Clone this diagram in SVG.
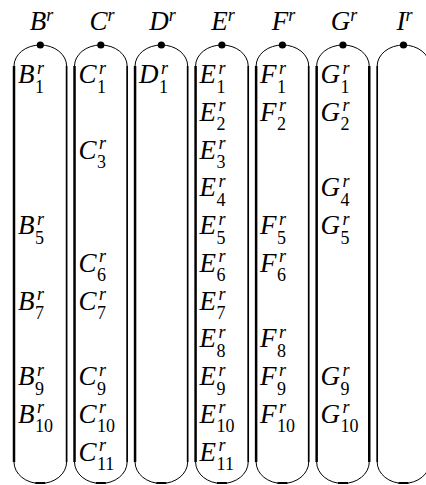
<svg xmlns="http://www.w3.org/2000/svg" width="426" height="485" viewBox="0 0 426 485">
<style>
.bg{fill:#fff}
.arc{fill:none;stroke:#000;stroke-width:1}
.vl{stroke:#000;stroke-width:2.5}
.vr{stroke:#000;stroke-width:1.7}
.bt{stroke:#000;stroke-width:2}
.dot{fill:#000}
.m{font-family:"Liberation Serif",serif;font-style:italic;font-size:27px;fill:#000}
.s{font-style:italic;font-size:18px}
.d{font-style:normal;font-size:18px}
</style>
<rect class="bg" x="0" y="0" width="426" height="485"/>
<g id="col-B">
<path class="arc" d="M14,66 A26.3,21 0 0 1 66.6,66 M14,462 A26.3,21.5 0 0 0 66.6,462"/>
<line class="vl" x1="14" y1="66" x2="14" y2="462"/><line class="vr" x1="66.6" y1="66" x2="66.6" y2="462"/>
<line class="bt" x1="35.3" y1="483" x2="45.3" y2="483"/>
<circle class="dot" cx="40.3" cy="45" r="3.6"/>
<text class="m" x="41.5" y="30" text-anchor="middle">B<tspan class="s" dy="-9.5">r</tspan></text>
<text class="m" y="83"><tspan x="18">B</tspan><tspan class="s" x="37" dy="-9.5">r</tspan><tspan class="d" x="35" dy="19">1</tspan></text>
<text class="m" y="234"><tspan x="18">B</tspan><tspan class="s" x="37" dy="-9.5">r</tspan><tspan class="d" x="35" dy="19">5</tspan></text>
<text class="m" y="309.5"><tspan x="18">B</tspan><tspan class="s" x="37" dy="-9.5">r</tspan><tspan class="d" x="35" dy="19">7</tspan></text>
<text class="m" y="385"><tspan x="18">B</tspan><tspan class="s" x="37" dy="-9.5">r</tspan><tspan class="d" x="35" dy="19">9</tspan></text>
<text class="m" y="422.75"><tspan x="18">B</tspan><tspan class="s" x="37" dy="-9.5">r</tspan><tspan class="d" x="35" dy="19">10</tspan></text>
</g>
<g id="col-C">
<path class="arc" d="M74.53,66 A26.3,21 0 0 1 127.13,66 M74.53,462 A26.3,21.5 0 0 0 127.13,462"/>
<line class="vl" x1="74.53" y1="66" x2="74.53" y2="462"/><line class="vr" x1="127.13" y1="66" x2="127.13" y2="462"/>
<line class="bt" x1="95.83" y1="483" x2="105.83" y2="483"/>
<circle class="dot" cx="100.83" cy="45" r="3.6"/>
<text class="m" x="102" y="30" text-anchor="middle">C<tspan class="s" dy="-9.5">r</tspan></text>
<text class="m" y="83"><tspan x="78.5">C</tspan><tspan class="s" x="99" dy="-9.5">r</tspan><tspan class="d" x="97" dy="19">1</tspan></text>
<text class="m" y="158.5"><tspan x="78.5">C</tspan><tspan class="s" x="99" dy="-9.5">r</tspan><tspan class="d" x="97" dy="19">3</tspan></text>
<text class="m" y="271.75"><tspan x="78.5">C</tspan><tspan class="s" x="99" dy="-9.5">r</tspan><tspan class="d" x="97" dy="19">6</tspan></text>
<text class="m" y="309.5"><tspan x="78.5">C</tspan><tspan class="s" x="99" dy="-9.5">r</tspan><tspan class="d" x="97" dy="19">7</tspan></text>
<text class="m" y="385"><tspan x="78.5">C</tspan><tspan class="s" x="99" dy="-9.5">r</tspan><tspan class="d" x="97" dy="19">9</tspan></text>
<text class="m" y="422.75"><tspan x="78.5">C</tspan><tspan class="s" x="99" dy="-9.5">r</tspan><tspan class="d" x="97" dy="19">10</tspan></text>
<text class="m" y="460.5"><tspan x="78.5">C</tspan><tspan class="s" x="99" dy="-9.5">r</tspan><tspan class="d" x="97" dy="19">11</tspan></text>
</g>
<g id="col-D">
<path class="arc" d="M135.06,66 A26.3,21 0 0 1 187.66,66 M135.06,462 A26.3,21.5 0 0 0 187.66,462"/>
<line class="vl" x1="135.06" y1="66" x2="135.06" y2="462"/><line class="vr" x1="187.66" y1="66" x2="187.66" y2="462"/>
<line class="bt" x1="156.36" y1="483" x2="166.36" y2="483"/>
<circle class="dot" cx="161.36" cy="45" r="3.6"/>
<text class="m" x="162.5" y="30" text-anchor="middle">D<tspan class="s" dy="-9.5">r</tspan></text>
<text class="m" y="83"><tspan x="139">D</tspan><tspan class="s" x="161" dy="-9.5">r</tspan><tspan class="d" x="159" dy="19">1</tspan></text>
</g>
<g id="col-E">
<path class="arc" d="M195.59,66 A26.3,21 0 0 1 248.19,66 M195.59,462 A26.3,21.5 0 0 0 248.19,462"/>
<line class="vl" x1="195.59" y1="66" x2="195.59" y2="462"/><line class="vr" x1="248.19" y1="66" x2="248.19" y2="462"/>
<line class="bt" x1="216.89" y1="483" x2="226.89" y2="483"/>
<circle class="dot" cx="221.89" cy="45" r="3.6"/>
<text class="m" x="223" y="30" text-anchor="middle">E<tspan class="s" dy="-9.5">r</tspan></text>
<text class="m" y="83"><tspan x="199.6">E</tspan><tspan class="s" x="218.6" dy="-9.5">r</tspan><tspan class="d" x="216.6" dy="19">1</tspan></text>
<text class="m" y="120.75"><tspan x="199.6">E</tspan><tspan class="s" x="218.6" dy="-9.5">r</tspan><tspan class="d" x="216.6" dy="19">2</tspan></text>
<text class="m" y="158.5"><tspan x="199.6">E</tspan><tspan class="s" x="218.6" dy="-9.5">r</tspan><tspan class="d" x="216.6" dy="19">3</tspan></text>
<text class="m" y="196.25"><tspan x="199.6">E</tspan><tspan class="s" x="218.6" dy="-9.5">r</tspan><tspan class="d" x="216.6" dy="19">4</tspan></text>
<text class="m" y="234"><tspan x="199.6">E</tspan><tspan class="s" x="218.6" dy="-9.5">r</tspan><tspan class="d" x="216.6" dy="19">5</tspan></text>
<text class="m" y="271.75"><tspan x="199.6">E</tspan><tspan class="s" x="218.6" dy="-9.5">r</tspan><tspan class="d" x="216.6" dy="19">6</tspan></text>
<text class="m" y="309.5"><tspan x="199.6">E</tspan><tspan class="s" x="218.6" dy="-9.5">r</tspan><tspan class="d" x="216.6" dy="19">7</tspan></text>
<text class="m" y="347.25"><tspan x="199.6">E</tspan><tspan class="s" x="218.6" dy="-9.5">r</tspan><tspan class="d" x="216.6" dy="19">8</tspan></text>
<text class="m" y="385"><tspan x="199.6">E</tspan><tspan class="s" x="218.6" dy="-9.5">r</tspan><tspan class="d" x="216.6" dy="19">9</tspan></text>
<text class="m" y="422.75"><tspan x="199.6">E</tspan><tspan class="s" x="218.6" dy="-9.5">r</tspan><tspan class="d" x="216.6" dy="19">10</tspan></text>
<text class="m" y="460.5"><tspan x="199.6">E</tspan><tspan class="s" x="218.6" dy="-9.5">r</tspan><tspan class="d" x="216.6" dy="19">11</tspan></text>
</g>
<g id="col-F">
<path class="arc" d="M256.12,66 A26.3,21 0 0 1 308.72,66 M256.12,462 A26.3,21.5 0 0 0 308.72,462"/>
<line class="vl" x1="256.12" y1="66" x2="256.12" y2="462"/><line class="vr" x1="308.72" y1="66" x2="308.72" y2="462"/>
<line class="bt" x1="277.42" y1="483" x2="287.42" y2="483"/>
<circle class="dot" cx="282.42" cy="45" r="3.6"/>
<text class="m" x="283.5" y="30" text-anchor="middle">F<tspan class="s" dy="-9.5">r</tspan></text>
<text class="m" y="83"><tspan x="260">F</tspan><tspan class="s" x="279" dy="-9.5">r</tspan><tspan class="d" x="277" dy="19">1</tspan></text>
<text class="m" y="120.75"><tspan x="260">F</tspan><tspan class="s" x="279" dy="-9.5">r</tspan><tspan class="d" x="277" dy="19">2</tspan></text>
<text class="m" y="234"><tspan x="260">F</tspan><tspan class="s" x="279" dy="-9.5">r</tspan><tspan class="d" x="277" dy="19">5</tspan></text>
<text class="m" y="271.75"><tspan x="260">F</tspan><tspan class="s" x="279" dy="-9.5">r</tspan><tspan class="d" x="277" dy="19">6</tspan></text>
<text class="m" y="347.25"><tspan x="260">F</tspan><tspan class="s" x="279" dy="-9.5">r</tspan><tspan class="d" x="277" dy="19">8</tspan></text>
<text class="m" y="385"><tspan x="260">F</tspan><tspan class="s" x="279" dy="-9.5">r</tspan><tspan class="d" x="277" dy="19">9</tspan></text>
<text class="m" y="422.75"><tspan x="260">F</tspan><tspan class="s" x="279" dy="-9.5">r</tspan><tspan class="d" x="277" dy="19">10</tspan></text>
</g>
<g id="col-G">
<path class="arc" d="M316.65,66 A26.3,21 0 0 1 369.25,66 M316.65,462 A26.3,21.5 0 0 0 369.25,462"/>
<line class="vl" x1="316.65" y1="66" x2="316.65" y2="462"/><line class="vl" x1="369.25" y1="66" x2="369.25" y2="462"/>
<line class="bt" x1="337.95" y1="483" x2="347.95" y2="483"/>
<circle class="dot" cx="342.95" cy="45" r="3.6"/>
<text class="m" x="344" y="30" text-anchor="middle">G<tspan class="s" dy="-9.5">r</tspan></text>
<text class="m" y="83"><tspan x="320.6">G</tspan><tspan class="s" x="342.6" dy="-9.5">r</tspan><tspan class="d" x="340.6" dy="19">1</tspan></text>
<text class="m" y="120.75"><tspan x="320.6">G</tspan><tspan class="s" x="342.6" dy="-9.5">r</tspan><tspan class="d" x="340.6" dy="19">2</tspan></text>
<text class="m" y="196.25"><tspan x="320.6">G</tspan><tspan class="s" x="342.6" dy="-9.5">r</tspan><tspan class="d" x="340.6" dy="19">4</tspan></text>
<text class="m" y="234"><tspan x="320.6">G</tspan><tspan class="s" x="342.6" dy="-9.5">r</tspan><tspan class="d" x="340.6" dy="19">5</tspan></text>
<text class="m" y="385"><tspan x="320.6">G</tspan><tspan class="s" x="342.6" dy="-9.5">r</tspan><tspan class="d" x="340.6" dy="19">9</tspan></text>
<text class="m" y="422.75"><tspan x="320.6">G</tspan><tspan class="s" x="342.6" dy="-9.5">r</tspan><tspan class="d" x="340.6" dy="19">10</tspan></text>
</g>
<g id="col-I">
<path class="arc" d="M377.18,66 A26.3,21 0 0 1 429.78,66 M377.18,462 A26.3,21.5 0 0 0 429.78,462"/>
<line class="vr" x1="377.18" y1="66" x2="377.18" y2="462"/><line class="vr" x1="429.78" y1="66" x2="429.78" y2="462"/>
<line class="bt" x1="398.48" y1="483" x2="408.48" y2="483"/>
<circle class="dot" cx="403.48" cy="45" r="3.6"/>
<text class="m" x="404.5" y="30" text-anchor="middle">I<tspan class="s" dy="-9.5">r</tspan></text>
</g>
</svg>
